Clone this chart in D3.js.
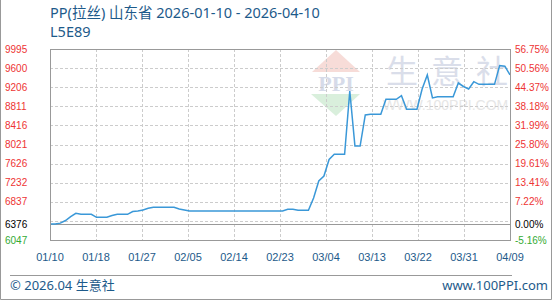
<!DOCTYPE html>
<html>
<head>
<meta charset="utf-8">
<script src="https://cdn.jsdelivr.net/npm/d3@7"></script>
<style>
body { margin: 0; background: #fff; }
</style>
</head>
<body>
<div id="chart"></div>
<script>
// daily prices from 2026-01-10
var values = [6376, 6376, 6396, 6450, 6530, 6599, 6578, 6578, 6578, 6516,
              6516, 6516, 6553, 6578, 6578, 6578, 6636, 6646, 6667, 6702,
              6723, 6723, 6723, 6723, 6723, 6688, 6667, 6646, 6646, 6646,
              6646, 6646, 6646, 6646, 6646, 6646, 6646, 6646, 6646, 6646,
              6646, 6646, 6646, 6646, 6646, 6646, 6681, 6681, 6660, 6660,
              6660, 6915, 7267, 7370, 7711, 7818, 7818, 7818, 9127, 7990,
              7990, 8631, 8645, 8645, 8645, 8955, 8955, 8955, 9030, 8749,
              8749, 8749, 9168, 9458, 8985, 9009, 9009, 9009, 9009, 9292,
              9220, 9168, 9319, 9264, 9264, 9264, 9264, 9654, 9640, 9458];
var yTickLabels = ["9995", "9600", "9206", "8811", "8416", "8021", "7626", "7232", "6837"];
var pctTickLabels = ["56.75%", "50.56%", "44.37%", "38.18%", "31.99%", "25.80%", "19.61%", "13.41%", "7.22%"];
var baseValue = 6376, baseLabel = "0.00%";
var minValue = 6047, minLabel = "-5.16%";
var maxValue = 9995;
var xTickLabels = ["01/10", "01/18", "01/27", "02/05", "02/14", "02/23", "03/04", "03/13", "03/22", "03/31", "04/09"];

var W = 560, H = 300;
var pLeft = 50, pRight = 510, pTop = 49, pBottom = 240;
var blue = "#1d5a8a", red = "#ee3333", green = "#33aa33", lineColor = "#3a98d8";
var font = "'Liberation Sans', Arial, sans-serif";

var svg = d3.select("#chart").append("svg")
            .attr("width", W)
            .attr("height", H);

var start = new Date(2026, 0, 10), end = new Date(2026, 3, 9);
var x = d3.scaleTime().domain([start, end]).range([pLeft, pRight]);
var y = d3.scaleLinear().domain([minValue, maxValue]).range([pBottom, pTop]);

// watermark
var wm = svg.append("g");
wm.append("path")
    .attr("d", "M312,72L336,50L360,72Z")
    .attr("fill", "#f7dcd8");
wm.append("path")
    .attr("d", "M311,94L360,94L336,116Z")
    .attr("fill", "#d9efdc");
wm.append("text")
    .attr("x", 336).attr("y", 91)
    .attr("text-anchor", "middle")
    .attr("font-family", "'Liberation Serif', serif")
    .attr("font-weight", "bold")
    .attr("font-size", 22)
    .attr("fill", "#d6dbe9")
    .text("PPI");
["生", "意", "社"].forEach(function(c, k) {
    wm.append("text")
        .attr("x", 386 + k * 45).attr("y", 83)
        .attr("font-family", "'Noto Sans CJK SC', sans-serif")
        .attr("font-size", 32)
        .attr("fill", "#dadeea")
        .text(c);
});
wm.append("text")
    .attr("x", 383).attr("y", 110)
    .attr("font-family", font)
    .attr("font-size", 14)
    .attr("fill", "#e6e6e6")
    .text("WWW.100PPI.COM");

// grid
var i, n = 10;
for (i = 1; i < n; i++) {
    var gy = Math.round(pTop + (pBottom - pTop) * i / n) + 0.5;
    svg.append("line")
        .attr("x1", pLeft).attr("x2", pRight)
        .attr("y1", gy).attr("y2", gy)
        .attr("stroke", "#cccccc")
        .attr("stroke-dasharray", "3,2");
    var gx = Math.round(pLeft + (pRight - pLeft) * i / n) + 0.5;
    svg.append("line")
        .attr("x1", gx).attr("x2", gx)
        .attr("y1", pTop).attr("y2", pBottom)
        .attr("stroke", "#cccccc")
        .attr("stroke-dasharray", "3,2");
}

// base line
svg.append("line")
    .attr("x1", pLeft).attr("x2", pRight)
    .attr("y1", Math.round(y(baseValue)) + 0.5).attr("y2", Math.round(y(baseValue)) + 0.5)
    .attr("stroke", "#999999");

// price line
var line = d3.line()
    .x(function(d, k) { return x(d3.timeDay.offset(start, k)); })
    .y(function(d) { return y(d); });
svg.append("path")
    .datum(values)
    .attr("d", line)
    .attr("fill", "none")
    .attr("stroke", lineColor)
    .attr("stroke-width", 1.5);

// frame
svg.append("rect")
    .attr("x", pLeft + 0.5).attr("y", pTop + 0.5)
    .attr("width", pRight - pLeft).attr("height", pBottom - pTop)
    .attr("fill", "none")
    .attr("stroke", "#999999");

// y labels
var step = (maxValue - minValue) / n;
for (i = 0; i < yTickLabels.length; i++) {
    var ty = y(maxValue - step * i);
    svg.append("text")
        .attr("x", 5).attr("y", ty).attr("dy", "0.35em")
        .attr("font-family", font).attr("font-size", 10)
        .attr("fill", red)
        .text(yTickLabels[i]);
    svg.append("text")
        .attr("x", 515).attr("y", ty).attr("dy", "0.35em")
        .attr("font-family", font).attr("font-size", 10)
        .attr("fill", red)
        .text(pctTickLabels[i]);
}
[[baseValue, "" + baseValue, baseLabel, "#000000"], [minValue, "" + minValue, minLabel, green]].forEach(function(r) {
    svg.append("text")
        .attr("x", 5).attr("y", y(r[0])).attr("dy", "0.35em")
        .attr("font-family", font).attr("font-size", 10)
        .attr("fill", r[3])
        .text(r[1]);
    svg.append("text")
        .attr("x", 515).attr("y", y(r[0])).attr("dy", "0.35em")
        .attr("font-family", font).attr("font-size", 10)
        .attr("fill", r[3])
        .text(r[2]);
});

// x labels
for (i = 0; i < xTickLabels.length; i++) {
    var td = new Date(+start + (end - start) * i / (xTickLabels.length - 1));
    svg.append("text")
        .attr("x", x(td)).attr("y", 261)
        .attr("text-anchor", "middle")
        .attr("font-family", font).attr("font-size", 11)
        .attr("fill", blue)
        .text(xTickLabels[i]);
}

// title
svg.append("text")
    .attr("x", 50).attr("y", 18)
    .attr("font-family", "'Noto Sans', 'Noto Sans CJK SC', sans-serif")
    .attr("font-size", 14.5)
    .attr("fill", blue)
    .text("PP(拉丝) 山东省 2026-01-10 - 2026-04-10");
svg.append("text")
    .attr("x", 50).attr("y", 37)
    .attr("font-family", "'Noto Sans', sans-serif")
    .attr("font-size", 14.5)
    .attr("fill", blue)
    .text("L5E89");

// footer
svg.append("line")
    .attr("x1", 10).attr("x2", 512)
    .attr("y1", 275.5).attr("y2", 275.5)
    .attr("stroke", "#999999");
svg.append("text")
    .attr("x", 10).attr("y", 290)
    .attr("font-family", "'Noto Sans', 'Noto Sans CJK SC', sans-serif")
    .attr("font-size", 13)
    .attr("fill", blue)
    .text("© 2026.04 生意社");
svg.append("text")
    .attr("x", 548).attr("y", 290)
    .attr("text-anchor", "end")
    .attr("font-family", "'Noto Sans', sans-serif")
    .attr("font-size", 13)
    .attr("fill", blue)
    .text("www.100PPI.com");

// outer border
svg.append("path")
    .attr("d", "M0.5,0V299.5H551.5V0")
    .attr("fill", "none")
    .attr("stroke", "#999999");
</script>
</body>
</html>
